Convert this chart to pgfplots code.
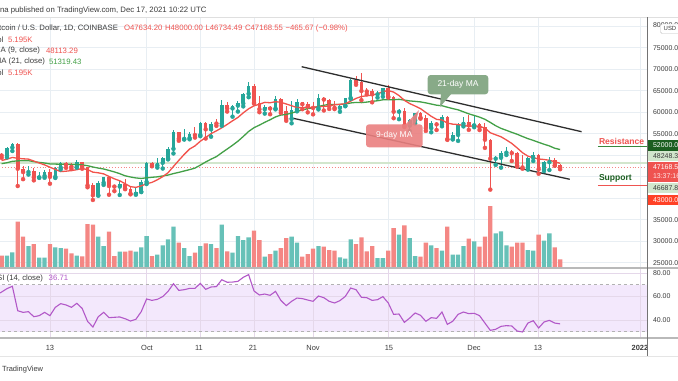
\documentclass[border=0pt]{standalone}
\usepackage{pgfplots}
\pgfplotsset{compat=1.18}
\usepackage{pgfplotstable}
\usepackage{fontspec}
\setmainfont{Liberation Sans}
\definecolor{cG}{RGB}{38,166,154}
\definecolor{cR}{RGB}{239,83,80}
\definecolor{vG}{RGB}{103,193,184}
\definecolor{vR}{RGB}{244,135,132}
\definecolor{maR}{RGB}{242,82,75}
\definecolor{maG}{RGB}{67,160,71}
\definecolor{gridc}{RGB}{232,238,243}
\definecolor{rsiL}{RGB}{178,88,200}
\definecolor{rsiF}{RGB}{243,232,252}
\definecolor{txt}{RGB}{60,60,60}
\definecolor{chan}{RGB}{45,45,45}
\definecolor{lgr}{RGB}{210,230,205}
\definecolor{dkG}{RGB}{27,94,32}
\definecolor{boxG}{RGB}{136,170,136}
\definecolor{boxR}{RGB}{234,128,128}
\newcommand{\fs}[1]{\fontsize{#1}{#1}\selectfont}

% green candles: day (Sep 13 = 0), open, high, low, close, volume
\pgfplotstableread{
d O H L C V
-8 49920 51900 49500 51780 37
-7 51780 52780 50970 52660 47
-4 46080 47400 45500 46400 66
-2 44850 45990 44730 45160 31
-1 45160 46460 44750 46060 31
1 44960 47250 44700 47110 62
2 47110 48480 46700 48150 60
5 47300 48820 47100 48310 37
9 40700 44000 40580 43570 94
10 43570 44980 43100 44890 66
13 42700 43920 40750 43210 49
16 41030 42600 40800 41520 49
17 41520 44130 41420 43790 62
18 43790 48500 43290 48140 96
20 47660 49300 47120 48230 40
21 48230 49500 46900 49250 68
22 49250 51890 49020 51490 86
23 51490 55750 50400 55340 124
25 53800 56100 53640 53970 60
26 53970 55480 53700 54960 36
28 54690 57800 54420 57480 66
30 56010 57700 54300 57370 72
32 57360 62900 56850 61670 130
34 60880 61730 58960 61530 46
35 61530 62650 60150 62040 96
36 62040 64490 61350 64280 84
37 64280 67000 63480 66000 92
40 60690 61750 59680 61290 34
42 60860 63710 60660 63080 52
45 58460 62500 57420 60590 94
46 60590 62980 60200 62260 76
50 61000 64270 60640 63230 66
54 61000 61600 60100 61500 32
55 61500 63330 61380 63310 28
56 63310 67800 63100 67550 86
61 64150 64960 63400 64400 30
62 64400 65600 63600 65520 30
65 60110 60810 58380 60360 100
67 56890 58370 55600 58120 90
68 58120 59850 57400 59730 36
71 56290 57880 55330 57570 68
73 57170 59400 56720 58960 52
75 53730 55320 53670 54720 40
76 54720 57440 53330 57290 40
77 57290 58870 56700 57800 66
79 56950 59060 56500 57220 80
83 49200 49700 47750 49400 104
84 49400 50900 47100 50580 110
85 50580 51950 50050 50620 68
89 47150 49500 46650 49390 54
90 49390 50800 48650 50100 52
92 46730 48700 46300 48380 82
93 48380 49500 46550 48880 104
}\tblG

% red candles
\pgfplotstableread{
d O H L C V
-9 49940 50560 49400 49920 37
-6 52660 52920 42830 46860 139
-5 46860 47380 44430 46080 94
-3 46400 47040 44150 44850 72
0 46060 46880 43370 44960 72
3 48150 48490 47050 47770 58
4 47770 48180 46800 47300 44
6 48310 48370 46860 47260 35
7 47260 47330 42540 42970 132
8 42970 43630 39590 40700 130
11 44890 45000 40800 42840 109
12 42840 42970 41650 42700 36
14 43210 44350 42100 42240 49
15 42240 42780 40900 41030 52
19 48140 48350 47420 47660 36
24 55340 55400 53360 53800 76
27 54960 56500 54100 54690 46
29 57480 57680 53880 56010 74
31 57370 58530 56830 57360 60
33 61670 62350 60150 60880 50
38 66000 66640 62000 62210 112
39 62210 63730 60000 60690 84
41 61290 61490 59520 60860 42
43 63080 63290 59820 60330 60
44 60330 61500 58000 58460 90
47 62260 62370 60700 61860 34
48 61860 62400 59960 61320 42
49 61320 62430 59500 61000 58
51 63230 63530 60400 62940 64
52 62940 63120 60750 61430 54
53 61430 62600 60720 61000 52
57 67550 68530 66380 66950 72
58 66950 69000 62800 64940 92
59 64940 65600 64150 64820 50
60 64820 65450 62300 64150 66
63 65520 66400 63410 63620 52
64 63620 63800 58600 60110 120
66 60360 60950 56550 56890 128
69 59730 60030 58500 58730 34
70 58730 59290 55650 56290 76
72 57570 57730 55860 57170 60
74 58960 59180 53570 53730 124
78 57800 59250 55890 56950 88
80 57220 57400 55850 56510 64
81 56510 57600 51700 53600 94
82 53600 53870 42000 49200 186
86 50620 51200 48650 50500 64
87 50500 50800 47330 47600 76
88 47600 50100 46860 47150 76
91 50100 50300 45700 46730 100
94 48880 49430 47550 47630 62
95 47634 48000 46734 47168 26
}\tblR

% moving averages
\pgfplotstableread{
d ma9 ma21
-9 48766 48028
-8 49069 48254
-7 49483 48572
-6 49268 48677
-5 49167 48738
-4 49086 48721
-3 48641 48508
-2 48183 48332
-1 47752 48180
0 47201 47963
1 46682 47935
2 46181 47896
3 46282 47940
4 46418 47856
5 46630 47827
6 46898 47753
7 46654 47562
8 46059 47256
9 45904 47004
10 45658 46795
11 45068 46457
12 44504 46113
13 44050 45705
14 43376 45209
15 42683 44931
16 42522 44714
17 42866 44590
18 43373 44747
19 43681 44866
20 44280 44969
21 45008 45173
22 45928 45382
23 47383 45724
24 48802 46011
25 50186 46329
26 51427 46646
27 52154 47000
28 53246 47690
29 54110 48420
30 55012 49077
31 55664 49670
32 56368 50567
33 57154 51433
34 57994 52305
35 58781 53248
36 59847 54355
37 60793 55521
38 61482 56398
39 61851 56996
40 62288 57645
41 62198 58246
42 62442 58905
43 62309 59326
44 61911 59474
45 61501 59798
46 61086 60192
47 61047 60521
48 61117 60837
49 61084 61004
50 61348 61348
51 61332 61613
52 61454 61807
53 61737 61775
54 61838 61805
55 61954 61890
56 62587 62152
57 63212 62279
58 63650 62229
59 63827 62353
60 63961 62518
61 64291 62666
62 64793 62888
63 65029 62913
64 64673 62903
65 63874 62993
66 62757 62817
67 61999 62620
68 61433 62519
69 60831 62395
70 59930 62171
71 59047 61901
72 58330 61627
73 58202 61509
74 57466 61163
75 57224 60840
76 57132 60553
77 56918 60089
78 56720 59613
79 56823 59245
80 56706 58849
81 56309 58347
82 55224 57623
83 54743 56856
84 54283 56235
85 53542 55783
86 52731 55313
87 51692 54871
88 50573 54349
89 49782 53856
90 49393 53445
91 49119 52990
92 49006 52552
93 48817 52158
94 48484 51618
95 48114 51319
}\tblMA

% RSI (14)
\pgfplotstableread{
d r
-9.3 63.0
-9 63.8
-8 66.7
-7 68.7
-6 47.9
-5 46.5
-4 47.1
-3 42.8
-2 43.7
-1 46.5
0 43.7
1 50.8
2 53.9
3 52.8
4 50.8
5 54.2
6 49.9
7 38.9
8 34.0
9 42.8
10 46.5
11 42.0
12 42.3
13 42.6
14 41.1
15 39.1
16 40.6
17 47.1
18 57.9
19 56.7
20 57.6
21 59.9
22 64.4
23 70.9
24 65.2
25 65.8
26 66.9
27 66.9
28 71.2
29 66.1
30 68.1
31 68.4
32 74.3
33 72.1
34 72.3
35 72.9
36 76.3
37 78.6
38 64.7
39 61.3
40 62.1
41 61.0
42 64.4
43 56.7
44 52.2
45 55.9
46 58.7
47 58.2
48 57.0
49 55.9
50 60.4
51 59.0
52 55.9
53 54.5
54 56.5
55 60.1
56 67.2
57 65.8
58 59.3
59 59.0
60 56.7
61 57.3
62 59.9
63 54.5
64 44.8
65 45.1
66 38.0
67 41.7
68 46.0
69 44.0
70 38.9
71 42.0
72 41.4
73 46.8
74 36.3
75 38.9
76 44.8
77 46.8
78 45.4
79 45.7
80 43.7
81 37.4
82 31.2
83 32.1
84 34.6
85 35.2
86 34.9
87 30.6
88 29.8
89 37.4
90 39.4
91 33.2
92 38.3
93 39.7
94 37.4
95 36.71
}\tblRSI

\pgfplotsset{pane/.style={scale only axis, width=647bp, xmin=-9.3, xmax=111.18},
  gridonly/.style={axis line style={draw=none}, tick style={draw=none},
    xticklabels=\empty, yticklabels=\empty, scaled ticks=false, grid=major}}

\begin{document}
\begin{tikzpicture}
\fill[white] (0,0) rectangle (678bp,-381bp);
\path[use as bounding box] (0,0) rectangle (678bp,-381bp);

% ---------- price pane: grid + reference lines
\begin{axis}[pane, gridonly, at={(0bp,-268bp)}, anchor=south west, height=251bp,
  ymin=23767, ymax=82140,
  xtick={0,18,28,38,49,63,79,91,110}, ytick={25000,30000,...,80000},
  major grid style={draw=gridc, line width=0.8bp}]
\addplot[draw=lgr, line width=1.6bp] coordinates {(-10,48248) (112,48248)};
\addplot[draw=cR!70, dotted, line width=0.9bp] coordinates {(-10,47168.55) (112,47168.55)};
\end{axis}

% ---------- volume
\begin{axis}[pane, at={(0bp,-268bp)}, anchor=south west, height=251bp,
  ymin=0, ymax=753, hide axis]
\addplot[ybar, bar width=0.8, bar shift=0pt, fill=vG, draw=none] table[x=d, y=V] {\tblG};
\addplot[ybar, bar width=0.8, bar shift=0pt, fill=vR, draw=none] table[x=d, y=V] {\tblR};
\end{axis}

% ---------- candles, MAs, channel
\begin{axis}[pane, at={(0bp,-268bp)}, anchor=south west, height=251bp,
  ymin=23767, ymax=82140, hide axis]
\addplot[cG, only marks, mark=none,
  error bars/.cd, y dir=plus, y explicit, error mark=none,
  error bar style={line width=0.9bp, draw=cG}]
  table[x=d, y=L, y error plus expr=\thisrow{H}-\thisrow{L}] {\tblG};
\addplot[cG, only marks, mark=none,
  error bars/.cd, y dir=plus, y explicit, error mark=none,
  error bar style={line width=3.6bp, draw=cG}]
  table[x=d, y=O, y error plus expr=\thisrow{C}-\thisrow{O}] {\tblG};
\addplot[cR, only marks, mark=none,
  error bars/.cd, y dir=plus, y explicit, error mark=none,
  error bar style={line width=0.9bp, draw=cR}]
  table[x=d, y=L, y error plus expr=\thisrow{H}-\thisrow{L}] {\tblR};
\addplot[cR, only marks, mark=none,
  error bars/.cd, y dir=plus, y explicit, error mark=none,
  error bar style={line width=3.6bp, draw=cR}]
  table[x=d, y=C, y error plus expr=\thisrow{O}-\thisrow{C}] {\tblR};
\addplot[maG, line width=1.3bp, mark=none] table[x=d, y=ma21] {\tblMA};
\addplot[maR, line width=1.3bp, mark=none] table[x=d, y=ma9] {\tblMA};
\addplot[chan, line width=1.3bp, mark=none] coordinates {(46.87,70581) (99.0,55465)};
\addplot[chan, line width=1.3bp, mark=none] coordinates {(45.3,58581) (96.8,44395)};
\addplot[maG!85!black, line width=1.5bp, mark=none] coordinates {(102.05,52000) (112,52000)};
\addplot[cR, line width=1.5bp, mark=none] coordinates {(102.05,43000) (112,43000)};
\end{axis}

% ---------- RSI pane
\begin{axis}[pane, at={(0bp,-338bp)}, anchor=south west, height=70bp,
  ymin=24.68, ymax=84.26, hide axis]
\addplot[fill=rsiF, draw=none] coordinates {(-10,30) (112,30) (112,70) (-10,70) (-10,30)};
\end{axis}
\begin{axis}[pane, gridonly, at={(0bp,-338bp)}, anchor=south west, height=70bp,
  ymin=24.68, ymax=84.26,
  xtick={0,18,28,38,49,63,79,91,110}, ytick={40,60,80},
  major grid style={draw=gridc!80!violet!60, line width=0.8bp}]
\addplot[draw=gray!60, dashed, line width=0.8bp] coordinates {(-10,70) (112,70)};
\addplot[draw=gray!60, dashed, line width=0.8bp] coordinates {(-10,30) (112,30)};
\addplot[rsiL, line width=1.1bp, mark=none] table[x=d, y=r] {\tblRSI};
\end{axis}

\begin{scope}[x=1bp, y=-1bp, every node/.style={inner sep=0pt, outer sep=0pt, text=txt}]
% callouts
\fill[boxG] (441,93) -- (452,93) -- (440,107) -- cycle;
\fill[boxG, rounded corners=3bp] (427.7,75) rectangle (488.3,94.3);
\node[text=white] at (458,84.6) {\fs{8.5}21-day MA};
\fill[boxR, opacity=0.9] (405,125) -- (415,125) -- (419,110) -- cycle;
\fill[boxR, opacity=0.9, rounded corners=3bp] (366,124.3) rectangle (422.7,147.3);
\node[text=white] at (394.3,135.8) {\fs{8.5}9-day MA};
\node[anchor=west, text=cR] at (599,141.2) {\fs{8.6}\bfseries Resistance};
\node[anchor=west, text=dkG] at (599,178.6) {\fs{8.6}\bfseries Support};

% separators and frame
\draw[gray!25, line width=0.8bp] (0,17) -- (678,17);
\draw[gray!55, line width=1.3bp] (0,268) -- (678,268);
\draw[gray!55, line width=1.3bp] (0,338) -- (678,338);
\draw[gray!20, line width=0.8bp] (0,356) -- (678,356);

% header and legend
\node[anchor=west] at (0,10) {\fs{7.8}na published on TradingView.com, Dec 17, 2021 10:22 UTC};
\node[anchor=east] at (118,28) {\fs{7.8}Bitcoin / U.S. Dollar, 1D, COINBASE};
\node[anchor=west, text=cR] at (124,28) {\fs{7.8}O47634.20};
\node[anchor=west, text=cR] at (165,28) {\fs{7.8}H48000.00};
\node[anchor=west, text=cR] at (205.6,28) {\fs{7.8}L46734.49};
\node[anchor=west, text=cR] at (245,28) {\fs{7.8}C47168.55};
\node[anchor=west, text=cR] at (285.5,28) {\fs{7.8}−465.67 (−0.98\%)};
\node[anchor=east] at (3.5,40) {\fs{7.8}Vol};
\node[anchor=west, text=cR] at (8,40) {\fs{7.8}5.195K};
\node[anchor=east] at (40,50.7) {\fs{7.8}MA (9, close)};
\node[anchor=west, text=cR] at (46,50.7) {\fs{7.8}48113.29};
\node[anchor=east] at (45,61.7) {\fs{7.8}MA (21, close)};
\node[anchor=west, text=maG] at (49,61.7) {\fs{7.8}51319.43};
\node[anchor=east] at (3.5,72.7) {\fs{7.8}Vol};
\node[anchor=west, text=cR] at (8,72.7) {\fs{7.8}5.195K};
\node[anchor=east] at (43,278) {\fs{7.8}RSI (14, close)};
\node[anchor=west, text=rsiL] at (48.7,278) {\fs{7.8}36.71};

% time axis
\node at (50,348) {\fs{7.5}13};
\node at (147,348) {\fs{7.5}Oct};
\node at (199,348) {\fs{7.5}11};
\node at (253,348) {\fs{7.5}21};
\node at (313,348) {\fs{7.5}Nov};
\node at (389,348) {\fs{7.5}15};
\node at (474,348) {\fs{7.5}Dec};
\node at (538,348) {\fs{7.5}13};
\node at (640,348) {\fs{7.5}\bfseries 2022};
\fill[white] (647.8,338.8) rectangle (678,355.5);
\node[anchor=west] at (2,370) {\fs{7.5}TradingView};

% price scale
\draw[gray!90!black, line width=0.9bp] (647.3,17) -- (647.3,356);
\node[anchor=west] at (653,25) {\fs{7}80000.00};
\draw[gray!50, fill=white, rounded corners=1.5bp] (660.5,24) rectangle (690,33.5);
\node at (670,28.8) {\fs{6}USD};
\node[anchor=west] at (653,47.7) {\fs{7}75000.00};
\node[anchor=west] at (653,69.2) {\fs{7}70000.00};
\node[anchor=west] at (653,90.7) {\fs{7}65000.00};
\node[anchor=west] at (653,112.2) {\fs{7}60000.00};
\node[anchor=west] at (653,133.7) {\fs{7}55000.00};
\node[anchor=west] at (653,219.7) {\fs{7}35000.00};
\node[anchor=west] at (653,241.2) {\fs{7}30000.00};
\node[anchor=west] at (653,262.7) {\fs{7}25000.00};
\fill[dkG] (648,140) rectangle (678,150.5);
\node[anchor=west, text=white] at (653,145.3) {\fs{7}52000.00};
\fill[lgr] (648,150.8) rectangle (678,161);
\node[anchor=west] at (653,155.9) {\fs{7}48248.32};
\fill[cR] (648,161.5) rectangle (678,181.8);
\node[anchor=west, text=white] at (653,166.8) {\fs{7}47168.55};
\node[anchor=west, text=white!85!cR] at (653,176.2) {\fs{7}13:37:16};
\fill[lgr] (648,182.5) rectangle (678,192.5);
\node[anchor=west] at (653,187.6) {\fs{7}46687.85};
\fill[red!75!orange!85] (648,194.5) rectangle (678,204.5);
\node[anchor=west, text=white] at (653,199.6) {\fs{7}43000.00};
\node[anchor=west] at (653,273) {\fs{7}80.00};
\node[anchor=west] at (653,296.5) {\fs{7}60.00};
\node[anchor=west] at (653,320) {\fs{7}40.00};
\end{scope}
\end{tikzpicture}
\end{document}
